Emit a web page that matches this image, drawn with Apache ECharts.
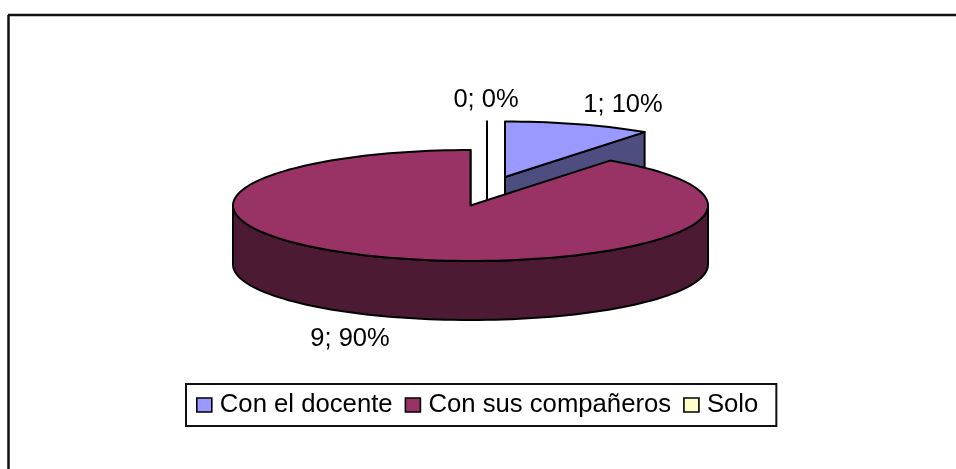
<!DOCTYPE html>
<html>
<head>
<meta charset="utf-8">
<style>html,body{margin:0;padding:0;background:#fff}#c{width:956px;height:469px}</style>
<script src="https://cdn.jsdelivr.net/npm/echarts@6/dist/echarts.min.js"></script>
</head>
<body>
<div id="c"></div>
<script>
var categories = ['Con el docente', 'Con sus compañeros', 'Solo'];
var values = [1, 9, 0];
var topColors = ['#9999FF', '#993366', '#FFFFCC'];
var sideColors = ['#4D4D80', '#4D1A33', '#808066'];

// Layout of the tilted pie (style only, no data)
var RX = 237.5, RY = 55.5, DEPTH = 59;
var centers = [[505, 177], [470.5, 205.5], [487, 177]];   // exploded slice centres
var labelPos = [[623, 105], [350, 339], [486, 100]];      // label centres
var drawOrder = [2, 4, 3];
var FONT = '"Liberation Sans", Arial, sans-serif';
var LABEL_SIZE = 25.5;

var total = values.reduce(function (a, b) { return a + b; }, 0);

function startOf(i) {
  var s = 0;
  for (var k = 0; k < i; k++) s += values[k];
  return s / total * 360;
}

function pt(c, deg, dz) {
  var t = deg * Math.PI / 180;
  return [c[0] + RX * Math.sin(t), c[1] - RY * Math.cos(t) + (dz || 0)];
}

function arc(c, a0, a1, dz) {
  var pts = [], n = Math.max(1, Math.ceil((a1 - a0) / 2));
  for (var i = 0; i <= n; i++) pts.push(pt(c, a0 + (a1 - a0) * i / n, dz));
  return pts;
}

function renderSlice(i) {
  return function (params, api) {
    var v = api.value(0);
    var c = centers[i];
    var a0 = startOf(i), a1 = a0 + v / total * 360;
    var stroke = { stroke: '#000', lineWidth: 2, lineJoin: 'round' };
    var kids = [];
    function poly(points, fill) {
      kids.push({
        type: 'polygon', shape: { points: points },
        style: Object.assign({ fill: fill }, stroke)
      });
    }
    // radial cut face that looks to the viewer
    var e = pt(c, a1), eb = pt(c, a1, DEPTH);
    if (Math.sin(a1 * Math.PI / 180) > -1e-6) {
      poly([[c[0], c[1]], e, eb, [c[0], c[1] + DEPTH]], sideColors[i]);
    }
    // outer wall, front half only
    var w0 = Math.max(a0, 90), w1 = Math.min(a1, 270);
    if (w1 > w0) {
      poly(arc(c, w0, w1, 0).concat(arc(c, w0, w1, DEPTH).reverse()), sideColors[i]);
    }
    // top face
    poly([[c[0], c[1]]].concat(arc(c, a0, a1, 0)), topColors[i]);
    // value; percent label
    kids.push({
      type: 'text',
      x: labelPos[i][0], y: labelPos[i][1],
      style: {
        text: v + '; ' + Math.round(v / total * 100) + '%',
        fill: '#000', font: LABEL_SIZE + 'px ' + FONT,
        align: 'center', verticalAlign: 'middle'
      }
    });
    return { type: 'group', children: kids };
  };
}

var chart = echarts.init(document.getElementById('c'), null, { renderer: 'canvas' });
chart.setOption({
  animation: false,
  backgroundColor: '#fff',
  graphic: [
    { type: 'line', shape: { x1: 8, y1: 15, x2: 956, y2: 15 }, style: { stroke: '#111', lineWidth: 2.5 } },
    { type: 'line', shape: { x1: 8.5, y1: 15, x2: 8.5, y2: 469 }, style: { stroke: '#111', lineWidth: 2.5 } }
  ],
  legend: {
    left: 186, top: 384,
    padding: [8, 18, 8, 10],
    itemWidth: 15, itemHeight: 14, itemGap: 12,
    borderColor: '#111', borderWidth: 2,
    icon: 'rect',
    selectedMode: false,
    itemStyle: { borderColor: '#000', borderWidth: 1.6 },
    textStyle: { fontFamily: FONT, fontSize: 25.7, color: '#000', padding: [0, 0, 0, 3] },
    data: categories
  },
  series: categories.map(function (name, i) {
    return {
      type: 'custom',
      name: name,
      coordinateSystem: 'none',
      z: drawOrder[i],
      itemStyle: { color: topColors[i] },
      renderItem: renderSlice(i),
      data: [[values[i]]],
      silent: true
    };
  })
});
</script>
</body>
</html>
